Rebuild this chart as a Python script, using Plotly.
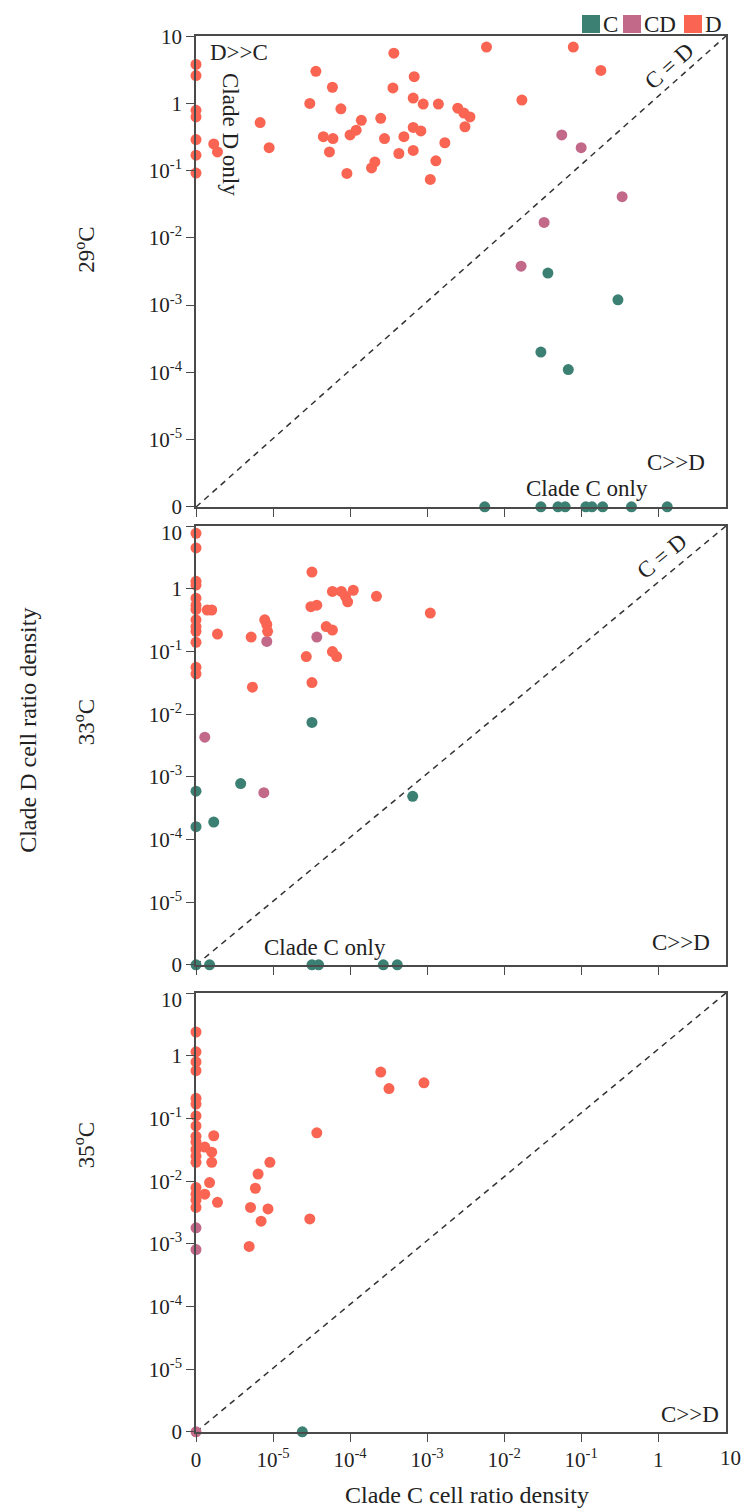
import numpy as np
import plotly.graph_objects as go
from plotly.subplots import make_subplots

# ---------------- data (Clade C ratio = x, Clade D ratio = y; 0 = not detected) -------------
# 29 oC
p29_D_x = [0, 0, 0, 0, 0, 0, 0,
           1.7e-6, 1.9e-6, 6.8e-6, 8.9e-6, 3.0e-5, 3.6e-5, 5.9e-5, 7.6e-5, 4.5e-5, 6.0e-5, 5.4e-5,
           1.0e-4, 1.2e-4, 1.4e-4, 9.1e-5, 2.1e-4, 1.9e-4,
           3.7e-4, 5.9e-3, 0.079, 0.18, 6.8e-4, 3.6e-4, 6.6e-4, 8.9e-4, 1.4e-3, 2.5e-3, 3.0e-3,
           3.6e-3, 3.1e-3, 0.017, 2.5e-4, 2.8e-4, 5.0e-4, 6.6e-4, 8.3e-4, 4.3e-4, 6.6e-4, 1.7e-3,
           1.3e-3, 1.1e-3]
p29_D_y = [3.8, 2.6, 0.79, 0.63, 0.29, 0.17, 0.092,
           0.25, 0.19, 0.52, 0.22, 1.0, 3.0, 1.74, 0.83, 0.32, 0.30, 0.19,
           0.34, 0.40, 0.56, 0.091, 0.135, 0.11,
           5.6, 6.9, 6.9, 3.1, 2.5, 1.7, 1.2, 0.98, 0.98, 0.85, 0.72,
           0.63, 0.45, 1.12, 0.60, 0.30, 0.32, 0.44, 0.39, 0.18, 0.20, 0.26,
           0.14, 0.074]
p29_CD_x = [0.056, 0.10, 0.34, 0.033, 0.0166]
p29_CD_y = [0.34, 0.22, 0.041, 0.017, 0.0038]
p29_C_x = [0.037, 0.30, 0.030, 0.068, 5.6e-3, 0.030, 0.050, 0.062, 0.115, 0.138, 0.19, 0.45, 1.31]
p29_C_y = [0.003, 0.0012, 2.0e-4, 1.1e-4, 0, 0, 0, 0, 0, 0, 0, 0, 0]

# 33 oC
p33_D_x = [0, 0, 0, 0, 0, 0, 0, 0, 0, 0, 0, 0, 0,
           1.4e-6, 1.6e-6, 1.9e-6, 5.2e-6, 5.4e-6, 7.8e-6, 8.3e-6, 8.5e-6, 2.7e-5, 3.2e-5, 3.1e-5,
           3.7e-5, 3.2e-5, 5.9e-5, 7.7e-5, 8.7e-5, 1.1e-4, 9.3e-5, 4.9e-5, 5.9e-5, 5.9e-5, 6.7e-5,
           2.2e-4, 1.1e-3]
p33_D_y = [7.7, 4.5, 1.32, 1.15, 0.71, 0.55, 0.47, 0.32, 0.25, 0.21, 0.14, 0.056, 0.044,
           0.46, 0.46, 0.19, 0.17, 0.027, 0.32, 0.27, 0.21, 0.083, 1.85, 0.52,
           0.55, 0.032, 0.91, 0.91, 0.76, 0.95, 0.62, 0.25, 0.22, 0.10, 0.083,
           0.76, 0.41]
p33_CD_x = [8.3e-6, 3.7e-5, 1.3e-6, 7.6e-6]
p33_CD_y = [0.145, 0.17, 0.0043, 5.6e-4]
p33_C_x = [3.2e-5, 0, 3.8e-6, 0, 1.7e-6, 6.5e-4, 0, 1.5e-6, 3.2e-5, 3.9e-5, 2.7e-4, 4.1e-4]
p33_C_y = [0.0074, 5.9e-4, 7.8e-4, 1.6e-4, 1.9e-4, 4.9e-4, 0, 0, 0, 0, 0, 0]

# 35 oC
p35_D_x = [0, 0, 0, 0, 0, 0, 0, 0, 0, 0, 0, 0, 0, 0, 0, 0, 0,
           1.3e-6, 1.6e-6, 1.7e-6, 1.6e-6, 1.5e-6, 1.3e-6, 1.9e-6, 5.1e-6, 5.9e-6, 6.4e-6,
           9.1e-6, 8.6e-6, 7.0e-6, 4.9e-6, 3.0e-5, 3.7e-5, 2.5e-4, 3.2e-4, 9.1e-4]
p35_D_y = [2.4, 1.16, 0.80, 0.58, 0.21, 0.17, 0.11, 0.076, 0.052, 0.042, 0.032, 0.025, 0.020,
           0.0079, 0.0062, 0.0050, 0.0038,
           0.035, 0.029, 0.053, 0.020, 0.0095, 0.0062, 0.0046, 0.0038, 0.0077, 0.013,
           0.020, 0.0036, 0.0023, 9.1e-4, 0.0025, 0.059, 0.55, 0.30, 0.37]
p35_CD_x = [0, 0, 0]
p35_CD_y = [0.0018, 8.1e-4, 0]
p35_C_x = [2.4e-5]
p35_C_y = [0]

panels = [
    ("29", {"C": (p29_C_x, p29_C_y), "CD": (p29_CD_x, p29_CD_y), "D": (p29_D_x, p29_D_y)}),
    ("33", {"C": (p33_C_x, p33_C_y), "CD": (p33_CD_x, p33_CD_y), "D": (p33_D_x, p33_D_y)}),
    ("35", {"C": (p35_C_x, p35_C_y), "CD": (p35_CD_x, p35_CD_y), "D": (p35_D_x, p35_D_y)}),
]
groups = ["C", "CD", "D"]
colors = {"C": "#3b8072", "CD": "#c2698a", "D": "#f96552"}

tick_vals = [1e-6, 1e-5, 1e-4, 1e-3, 1e-2, 1e-1, 1, 10]
tick_text = ["0", "10<sup>-5</sup>", "10<sup>-4</sup>", "10<sup>-3</sup>",
             "10<sup>-2</sup>", "10<sup>-1</sup>", "1", "10"]
ZERO_POS = 1e-6  # where a value of 0 is drawn on the log axes
X_RANGE = [-6, 0.88]


def place(v):
    a = np.asarray(v, dtype=float)
    return np.where(a == 0, ZERO_POS, a)


FONT = "Liberation Serif, Times New Roman, serif"
INK = "#222222"
AXC = "#4a4a4a"

# plot-area geometry (px) used to convert layout positions
W, H = 748, 1512
ML, MR, MT, MB = 196, 22, 36, 80
PW, PH = W - ML - MR, H - MT - MB


def px2paper(px, py):
    return (px - ML) / PW, (H - MB - py) / PH


fig = make_subplots(rows=3, cols=1)

for r, (temp, data) in enumerate(panels, start=1):
    for g in groups:
        xs, ys = data[g]
        fig.add_trace(go.Scatter(
            x=place(xs), y=place(ys), mode="markers",
            marker=dict(color=colors[g], size=11, line=dict(width=0)),
            showlegend=False, cliponaxis=False, name=g), row=r, col=1)

ann = []


def txt(text, xref, yref, x, y, xanchor="center", yanchor="middle", angle=0, size=23,
        xshift=0, yshift=0, fsize=None):
    ann.append(dict(text=text, xref=xref, yref=yref, x=x, y=y, xanchor=xanchor,
                    yanchor=yanchor, textangle=angle, showarrow=False,
                    xshift=xshift, yshift=yshift,
                    font=dict(family=FONT, size=fsize or size, color=INK)))


ydomains = [[0.6626, 1.0], [0.3345, 0.6490], [0.0, 0.3145]]
for r in range(1, 4):
    # the top "10" label of the lower panels sits a little below its tick in the original
    ytext = tick_text if r == 1 else tick_text[:-1] + [""]
    fig.update_xaxes(type="log", range=X_RANGE, tickvals=tick_vals, ticktext=tick_text,
                     showticklabels=(r == 3), ticks="outside", ticklen=8, tickwidth=1.3,
                     tickcolor=AXC, showline=True, linecolor=AXC, linewidth=1.5, mirror=True,
                     showgrid=False, zeroline=False,
                     tickfont=dict(family=FONT, size=21, color=INK), row=r, col=1)
    fig.update_yaxes(type="log", range=[-6.003, 1.003], tickvals=tick_vals, ticktext=ytext,
                     ticks="outside", ticklen=8, tickwidth=1.3, tickcolor=AXC,
                     showline=True, linecolor=AXC, linewidth=1.5, mirror=True,
                     showgrid=False, zeroline=False, domain=ydomains[r - 1],
                     tickfont=dict(family=FONT, size=21, color=INK), row=r, col=1)
    xr = "x" if r == 1 else f"x{r}"
    yr = "y" if r == 1 else f"y{r}"
    fig.add_shape(type="line", xref=f"{xr} domain", yref=f"{yr} domain", x0=0, y0=0, x1=1, y1=1,
                  line=dict(color="#333333", width=1.5, dash="6px,5px"), layer="below")
    if r > 1:
        txt(tick_text[-1], f"{xr} domain", f"{yr} domain", 0, 1, xanchor="right",
            xshift=-12, yshift=-7, fsize=21)

# panel 1
txt("D>>C", "x domain", "y domain", 0.022, 0.966, xanchor="left")
txt("Clade D only", "x domain", "y domain", 0.064, 0.79, angle=90)
txt("C = D", "x domain", "y domain", 0.892, 0.936, angle=-41.8)
txt("C>>D", "x domain", "y domain", 0.964, 0.0955, xanchor="right")
txt("Clade C only", "x domain", "y domain", 0.738, 0.040)
# panel 2
txt("C = D", "x2 domain", "y2 domain", 0.879, 0.93, angle=-39.6)
txt("Clade C only", "x2 domain", "y2 domain", 0.243, 0.041)
txt("C>>D", "x2 domain", "y2 domain", 0.974, 0.052, xanchor="right")
# panel 3
txt("C>>D", "x3 domain", "y3 domain", 0.991, 0.039, xanchor="right")
# extra "10" tick label just past the end of the x axis (decade 10^1), kept inside the page
x10, _ = px2paper(W - 5, 0)
txt(tick_text[-1], "paper", "y3 domain", x10, 0, xanchor="right", yshift=-26, fsize=21)
# temperature labels
txt("29<sup>o</sup>C", "paper", "paper", -0.209, 0.847, angle=-90)
txt("33<sup>o</sup>C", "paper", "paper", -0.209, 0.5086, angle=-90)
txt("35<sup>o</sup>C", "paper", "paper", -0.209, 0.2056, angle=-90)
# axis titles
txt("Clade D cell ratio density", "paper", "paper", -0.317, 0.503, angle=-90, size=24)
txt("Clade C cell ratio density", "paper", "paper", 0.511, -0.045, size=24)

# legend (colour squares + labels) above the top-right corner
legend_px = {"C": 582, "CD": 623, "D": 684}
SQ = 18
LEG_Y = 24
for g in groups:
    x0, y0 = px2paper(legend_px[g], LEG_Y + SQ / 2)
    x1, y1 = px2paper(legend_px[g] + SQ, LEG_Y - SQ / 2)
    fig.add_shape(type="rect", xref="paper", yref="paper", x0=x0, y0=y0, x1=x1, y1=y1,
                  fillcolor=colors[g], line=dict(width=0))
    tx, ty = px2paper(legend_px[g] + SQ + 1, LEG_Y)
    txt(g, "paper", "paper", tx, ty, xanchor="left", size=23)

fig.update_layout(
    width=W, height=H,
    margin=dict(l=ML, r=MR, t=MT, b=MB),
    paper_bgcolor="white", plot_bgcolor="white",
    annotations=ann,
    showlegend=False,
)

fig.write_html("out.html")
